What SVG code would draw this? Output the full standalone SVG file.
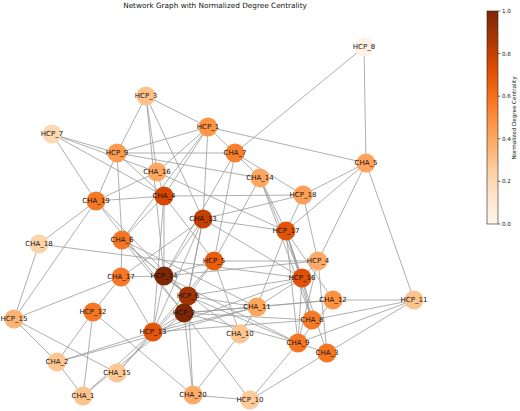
<svg xmlns="http://www.w3.org/2000/svg" width="520" height="411" viewBox="0 0 520 411">
<style>
.e line{stroke:#9a9a9a;stroke-width:0.8;fill:none}
.n circle{stroke:none}
.n text{font-family:"DejaVu Sans",sans-serif;font-size:7px;fill:#111;text-anchor:middle;dominant-baseline:central}
.t{font-family:"DejaVu Sans",sans-serif;fill:#111}
</style>
<defs>
<linearGradient id="cm" x1="0" y1="1" x2="0" y2="0">
<stop offset="0" stop-color="#fff5eb"/><stop offset="0.125" stop-color="#fee6ce"/><stop offset="0.25" stop-color="#fdd0a2"/><stop offset="0.375" stop-color="#fdae6b"/><stop offset="0.5" stop-color="#fd8d3c"/><stop offset="0.625" stop-color="#f16913"/><stop offset="0.75" stop-color="#d94801"/><stop offset="0.875" stop-color="#a63603"/><stop offset="1" stop-color="#7f2704"/>
</linearGradient>
</defs>
<rect width="520" height="411" fill="#fff"/>
<text class="t" x="215" y="8" font-size="7.3" text-anchor="middle">Network Graph with Normalized Degree Centrality</text>
<g id="edges" class="e">
<line x1="364" y1="47" x2="235" y2="153"/>
<line x1="364" y1="47" x2="366" y2="163"/>
<line x1="366" y1="163" x2="208" y2="127"/>
<line x1="366" y1="163" x2="303" y2="195"/>
<line x1="366" y1="163" x2="286" y2="231"/>
<line x1="366" y1="163" x2="318" y2="261"/>
<line x1="366" y1="163" x2="414" y2="300"/>
<line x1="146" y1="96" x2="208" y2="127"/>
<line x1="146" y1="96" x2="117" y2="153"/>
<line x1="146" y1="96" x2="157" y2="172"/>
<line x1="146" y1="96" x2="164" y2="276"/>
<line x1="146" y1="96" x2="203" y2="219"/>
<line x1="208" y1="127" x2="117" y2="153"/>
<line x1="208" y1="127" x2="157" y2="172"/>
<line x1="208" y1="127" x2="122" y2="240"/>
<line x1="208" y1="127" x2="164" y2="196"/>
<line x1="208" y1="127" x2="203" y2="219"/>
<line x1="208" y1="127" x2="235" y2="153"/>
<line x1="52" y1="134" x2="117" y2="153"/>
<line x1="52" y1="134" x2="96" y2="201"/>
<line x1="52" y1="134" x2="157" y2="172"/>
<line x1="52" y1="134" x2="164" y2="196"/>
<line x1="117" y1="153" x2="235" y2="153"/>
<line x1="117" y1="153" x2="260" y2="178"/>
<line x1="117" y1="153" x2="96" y2="201"/>
<line x1="117" y1="153" x2="122" y2="240"/>
<line x1="117" y1="153" x2="164" y2="196"/>
<line x1="157" y1="172" x2="164" y2="196"/>
<line x1="157" y1="172" x2="286" y2="231"/>
<line x1="157" y1="172" x2="96" y2="201"/>
<line x1="235" y1="153" x2="260" y2="178"/>
<line x1="235" y1="153" x2="214" y2="261"/>
<line x1="235" y1="153" x2="164" y2="276"/>
<line x1="235" y1="153" x2="303" y2="195"/>
<line x1="260" y1="178" x2="286" y2="231"/>
<line x1="260" y1="178" x2="302" y2="278"/>
<line x1="260" y1="178" x2="312" y2="320"/>
<line x1="260" y1="178" x2="214" y2="261"/>
<line x1="164" y1="196" x2="303" y2="195"/>
<line x1="164" y1="196" x2="164" y2="276"/>
<line x1="164" y1="196" x2="96" y2="201"/>
<line x1="164" y1="196" x2="122" y2="240"/>
<line x1="164" y1="196" x2="214" y2="261"/>
<line x1="164" y1="196" x2="153" y2="332"/>
<line x1="203" y1="219" x2="286" y2="231"/>
<line x1="203" y1="219" x2="303" y2="195"/>
<line x1="203" y1="219" x2="164" y2="276"/>
<line x1="203" y1="219" x2="188" y2="296"/>
<line x1="203" y1="219" x2="184" y2="313"/>
<line x1="203" y1="219" x2="153" y2="332"/>
<line x1="203" y1="219" x2="121" y2="277"/>
<line x1="203" y1="219" x2="302" y2="278"/>
<line x1="303" y1="195" x2="286" y2="231"/>
<line x1="303" y1="195" x2="318" y2="261"/>
<line x1="286" y1="231" x2="302" y2="278"/>
<line x1="286" y1="231" x2="312" y2="320"/>
<line x1="286" y1="231" x2="298" y2="343"/>
<line x1="286" y1="231" x2="257" y2="307"/>
<line x1="286" y1="231" x2="327" y2="353"/>
<line x1="318" y1="261" x2="302" y2="278"/>
<line x1="318" y1="261" x2="327" y2="353"/>
<line x1="318" y1="261" x2="214" y2="261"/>
<line x1="318" y1="261" x2="298" y2="343"/>
<line x1="302" y1="278" x2="257" y2="307"/>
<line x1="302" y1="278" x2="298" y2="343"/>
<line x1="302" y1="278" x2="312" y2="320"/>
<line x1="302" y1="278" x2="188" y2="296"/>
<line x1="302" y1="278" x2="153" y2="332"/>
<line x1="333" y1="300" x2="414" y2="300"/>
<line x1="333" y1="300" x2="184" y2="313"/>
<line x1="333" y1="300" x2="298" y2="343"/>
<line x1="333" y1="300" x2="286" y2="231"/>
<line x1="333" y1="300" x2="257" y2="307"/>
<line x1="414" y1="300" x2="312" y2="320"/>
<line x1="414" y1="300" x2="298" y2="343"/>
<line x1="414" y1="300" x2="327" y2="353"/>
<line x1="327" y1="353" x2="250" y2="400"/>
<line x1="327" y1="353" x2="298" y2="343"/>
<line x1="298" y1="343" x2="250" y2="400"/>
<line x1="298" y1="343" x2="188" y2="296"/>
<line x1="298" y1="343" x2="164" y2="276"/>
<line x1="257" y1="307" x2="240" y2="334"/>
<line x1="257" y1="307" x2="184" y2="313"/>
<line x1="257" y1="307" x2="188" y2="296"/>
<line x1="257" y1="307" x2="153" y2="332"/>
<line x1="257" y1="307" x2="57" y2="362"/>
<line x1="240" y1="334" x2="214" y2="261"/>
<line x1="240" y1="334" x2="164" y2="276"/>
<line x1="240" y1="334" x2="193" y2="395"/>
<line x1="193" y1="395" x2="250" y2="400"/>
<line x1="193" y1="395" x2="184" y2="313"/>
<line x1="193" y1="395" x2="188" y2="296"/>
<line x1="250" y1="400" x2="184" y2="313"/>
<line x1="153" y1="332" x2="83" y2="396"/>
<line x1="153" y1="332" x2="117" y2="373"/>
<line x1="153" y1="332" x2="57" y2="362"/>
<line x1="153" y1="332" x2="164" y2="276"/>
<line x1="153" y1="332" x2="121" y2="277"/>
<line x1="153" y1="332" x2="184" y2="313"/>
<line x1="153" y1="332" x2="312" y2="320"/>
<line x1="83" y1="396" x2="184" y2="313"/>
<line x1="117" y1="373" x2="188" y2="296"/>
<line x1="93" y1="312" x2="83" y2="396"/>
<line x1="93" y1="312" x2="57" y2="362"/>
<line x1="93" y1="312" x2="193" y2="395"/>
<line x1="93" y1="312" x2="121" y2="277"/>
<line x1="121" y1="277" x2="164" y2="276"/>
<line x1="121" y1="277" x2="14" y2="319"/>
<line x1="121" y1="277" x2="122" y2="240"/>
<line x1="39" y1="244" x2="14" y2="319"/>
<line x1="39" y1="244" x2="96" y2="201"/>
<line x1="39" y1="244" x2="302" y2="278"/>
<line x1="14" y1="319" x2="96" y2="201"/>
<line x1="14" y1="319" x2="57" y2="362"/>
<line x1="14" y1="319" x2="117" y2="373"/>
<line x1="57" y1="362" x2="83" y2="396"/>
<line x1="96" y1="201" x2="188" y2="296"/>
<line x1="96" y1="201" x2="184" y2="313"/>
<line x1="122" y1="240" x2="164" y2="276"/>
<line x1="122" y1="240" x2="188" y2="296"/>
<line x1="122" y1="240" x2="184" y2="313"/>
<line x1="122" y1="240" x2="257" y2="307"/>
<line x1="164" y1="276" x2="214" y2="261"/>
<line x1="164" y1="276" x2="318" y2="261"/>
<line x1="164" y1="276" x2="188" y2="296"/>
<line x1="214" y1="261" x2="188" y2="296"/>
<line x1="214" y1="261" x2="153" y2="332"/>
<line x1="188" y1="296" x2="184" y2="313"/>
<line x1="184" y1="313" x2="298" y2="343"/>
<line x1="184" y1="313" x2="312" y2="320"/>
</g>
<g id="HCP_8" class="n"><circle cx="364" cy="47" r="9.5" fill="#fff1e3"/><text x="364" y="47">HCP_8</text></g>
<g id="HCP_3" class="n"><circle cx="146" cy="96" r="9.5" fill="#fdc28c"/><text x="146" y="96">HCP_3</text></g>
<g id="HCP_1" class="n"><circle cx="208" cy="127" r="9.5" fill="#fd9446"/><text x="208" y="127">HCP_1</text></g>
<g id="HCP_7" class="n"><circle cx="52" cy="134" r="9.5" fill="#fdd8b2"/><text x="52" y="134">HCP_7</text></g>
<g id="HCP_9" class="n"><circle cx="117" cy="153" r="9.5" fill="#fd9a4e"/><text x="117" y="153">HCP_9</text></g>
<g id="CHA_7" class="n"><circle cx="235" cy="153" r="9.5" fill="#f87f2c"/><text x="235" y="153">CHA_7</text></g>
<g id="CHA_5" class="n"><circle cx="366" cy="163" r="9.5" fill="#fda35c"/><text x="366" y="163">CHA_5</text></g>
<g id="CHA_16" class="n"><circle cx="157" cy="172" r="9.5" fill="#fda762"/><text x="157" y="172">CHA_16</text></g>
<g id="CHA_14" class="n"><circle cx="260" cy="178" r="9.5" fill="#fda660"/><text x="260" y="178">CHA_14</text></g>
<g id="HCP_18" class="n"><circle cx="303" cy="195" r="9.5" fill="#fd9f56"/><text x="303" y="195">HCP_18</text></g>
<g id="CHA_4" class="n"><circle cx="164" cy="196" r="9.5" fill="#d64701"/><text x="164" y="196">CHA_4</text></g>
<g id="CHA_19" class="n"><circle cx="96" cy="201" r="9.5" fill="#f67824"/><text x="96" y="201">CHA_19</text></g>
<g id="CHA_13" class="n"><circle cx="203" cy="219" r="9.5" fill="#c24002"/><text x="203" y="219">CHA_13</text></g>
<g id="HCP_17" class="n"><circle cx="286" cy="231" r="9.5" fill="#e15307"/><text x="286" y="231">HCP_17</text></g>
<g id="CHA_6" class="n"><circle cx="122" cy="240" r="9.5" fill="#f57622"/><text x="122" y="240">CHA_6</text></g>
<g id="CHA_18" class="n"><circle cx="39" cy="244" r="9.5" fill="#fdd3a9"/><text x="39" y="244">CHA_18</text></g>
<g id="HCP_5" class="n"><circle cx="214" cy="261" r="9.5" fill="#e95e0d"/><text x="214" y="261">HCP_5</text></g>
<g id="HCP_4" class="n"><circle cx="318" cy="261" r="9.5" fill="#fdaa66"/><text x="318" y="261">HCP_4</text></g>
<g id="CHA_17" class="n"><circle cx="121" cy="277" r="9.5" fill="#f67824"/><text x="121" y="277">CHA_17</text></g>
<g id="HCP_14" class="n"><circle cx="164" cy="276" r="9.5" fill="#7f2704"/><text x="164" y="276">HCP_14</text></g>
<g id="HCP_16" class="n"><circle cx="302" cy="278" r="9.5" fill="#df5106"/><text x="302" y="278">HCP_16</text></g>
<g id="HCP_6" class="n"><circle cx="188" cy="296" r="9.5" fill="#a33403"/><text x="188" y="296">HCP_6</text></g>
<g id="CHA_12" class="n"><circle cx="333" cy="300" r="9.5" fill="#fd9243"/><text x="333" y="300">CHA_12</text></g>
<g id="HCP_11" class="n"><circle cx="414" cy="300" r="9.5" fill="#fdc38e"/><text x="414" y="300">HCP_11</text></g>
<g id="CHA_11" class="n"><circle cx="257" cy="307" r="9.5" fill="#fda45d"/><text x="257" y="307">CHA_11</text></g>
<g id="HCP_12" class="n"><circle cx="93" cy="312" r="9.5" fill="#f67824"/><text x="93" y="312">HCP_12</text></g>
<g id="HCP_2" class="n"><circle cx="184" cy="313" r="9.5" fill="#7f2704"/><text x="184" y="313">HCP_2</text></g>
<g id="HCP_15" class="n"><circle cx="14" cy="319" r="9.5" fill="#fdb373"/><text x="14" y="319">HCP_15</text></g>
<g id="CHA_8" class="n"><circle cx="312" cy="320" r="9.5" fill="#f67a25"/><text x="312" y="320">CHA_8</text></g>
<g id="HCP_13" class="n"><circle cx="153" cy="332" r="9.5" fill="#e35608"/><text x="153" y="332">HCP_13</text></g>
<g id="CHA_10" class="n"><circle cx="240" cy="334" r="9.5" fill="#fdc590"/><text x="240" y="334">CHA_10</text></g>
<g id="CHA_9" class="n"><circle cx="298" cy="343" r="9.5" fill="#f57622"/><text x="298" y="343">CHA_9</text></g>
<g id="CHA_3" class="n"><circle cx="327" cy="353" r="9.5" fill="#f57622"/><text x="327" y="353">CHA_3</text></g>
<g id="CHA_2" class="n"><circle cx="57" cy="362" r="9.5" fill="#fdc590"/><text x="57" y="362">CHA_2</text></g>
<g id="CHA_15" class="n"><circle cx="117" cy="373" r="9.5" fill="#fdc793"/><text x="117" y="373">CHA_15</text></g>
<g id="CHA_20" class="n"><circle cx="193" cy="395" r="9.5" fill="#fdac67"/><text x="193" y="395">CHA_20</text></g>
<g id="CHA_1" class="n"><circle cx="83" cy="396" r="9.5" fill="#fdc38e"/><text x="83" y="396">CHA_1</text></g>
<g id="HCP_10" class="n"><circle cx="250" cy="400" r="9.5" fill="#fdcb9b"/><text x="250" y="400">HCP_10</text></g>
<g id="colorbar">
<rect x="487" y="11" width="11" height="213" fill="url(#cm)" stroke="#222" stroke-width="0.6"/>
<g stroke="#222" stroke-width="0.6">
<line x1="498" y1="11" x2="500.5" y2="11"/><line x1="498" y1="53.6" x2="500.5" y2="53.6"/><line x1="498" y1="96.2" x2="500.5" y2="96.2"/><line x1="498" y1="138.8" x2="500.5" y2="138.8"/><line x1="498" y1="181.4" x2="500.5" y2="181.4"/><line x1="498" y1="224" x2="500.5" y2="224"/>
</g>
<g class="t" font-size="5.6" dominant-baseline="central">
<text x="502" y="11">1.0</text><text x="502" y="53.6">0.8</text><text x="502" y="96.2">0.6</text><text x="502" y="138.8">0.4</text><text x="502" y="181.4">0.2</text><text x="502" y="224">0.0</text>
</g>
<text class="t" font-size="5.6" text-anchor="middle" transform="translate(516,118) rotate(-90)">Normalized Degree Centrality</text>
</g>
</svg>
